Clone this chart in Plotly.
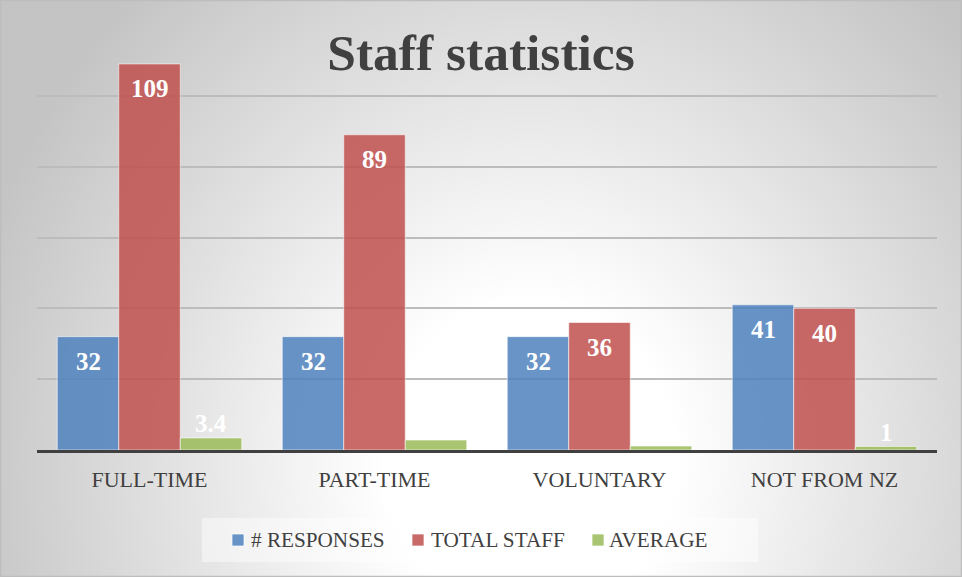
import base64
import plotly.graph_objects as go

categories = ["FULL-TIME", "PART-TIME", "VOLUNTARY", "NOT FROM NZ"]
series_names = ["# RESPONSES", "TOTAL STAFF", "AVERAGE"]
responses = [32, 32, 32, 41]
total_staff = [109, 89, 36, 40]
average = [3.4, 2.8, 1.1, 1.0]
y_ticks = [0, 20, 40, 60, 80, 100, 120]

series_values = [responses, total_staff, average]
colors = ["rgba(79,129,189,0.85)", "rgba(192,80,77,0.85)", "rgba(155,187,89,0.85)"]

W, H = 962, 577
ML, MR, MT, MB = 37, 25, 25, 127
PW, PH = W - ML - MR, H - MT - MB
BARGAP = 0.18

FONT = "Liberation Serif"
TXT = "#404040"


def px_x(x):
    return (x - ML) / PW


def px_y(y):
    return (H - MB - y) / PH


fig = go.Figure()
for name, vals, col in zip(series_names, series_values, colors):
    fig.add_trace(go.Bar(
        x=categories, y=vals, name=name, showlegend=False,
        marker=dict(color=col, line=dict(color="rgba(255,255,255,0.55)", width=1)),
        hoverinfo="x+y+name",
    ))

# data labels
cat_px = PW / len(categories)
bar_px = cat_px * (1 - BARGAP) / len(series_names)
annotations = []
for i, vals in enumerate(series_values):
    for c, v in zip(categories, vals):
        inside = i < 2
        annotations.append(dict(
            x=c, y=v, xref="x", yref="y",
            xshift=(i - 1) * bar_px,
            yshift=-25 if inside else 14,
            text=f"<b>{v:g}</b>", showarrow=False,
            font=dict(family=FONT, size=25, color="white"),
        ))

# legend (drawn as shapes + text)
shapes = [dict(type="rect", xref="paper", yref="paper",
               x0=px_x(202), x1=px_x(758), y0=px_y(562), y1=px_y(518),
               fillcolor="rgba(255,255,255,0.45)", line=dict(width=0), layer="below")]
leg_sq_x = [232, 412, 592]
leg_tx_x = [249, 429, 607]
leg_cy = 540
for name, col, sx, tx in zip(series_names, colors, leg_sq_x, leg_tx_x):
    shapes.append(dict(type="rect", xref="paper", yref="paper",
                       x0=px_x(sx), x1=px_x(sx + 12), y0=px_y(leg_cy + 6), y1=px_y(leg_cy - 6),
                       fillcolor=col, line=dict(color="rgba(255,255,255,0.7)", width=1)))
    annotations.append(dict(x=px_x(tx), y=px_y(leg_cy), xref="paper", yref="paper",
                            xanchor="left", yanchor="middle", showarrow=False, text=name,
                            font=dict(family=FONT, size=21.2, color=TXT)))

svg = f'''<svg xmlns="http://www.w3.org/2000/svg" width="{W}" height="{H}" viewBox="0 0 {W} {H}" preserveAspectRatio="none">
<defs><radialGradient id="g" gradientUnits="userSpaceOnUse" cx="530" cy="460" r="580"
 gradientTransform="translate(530 460) scale(1 1.1) translate(-530 -460)">
<stop offset="0" stop-color="#ffffff"/><stop offset="0.25" stop-color="#ffffff"/>
<stop offset="1" stop-color="#c4c4c4"/></radialGradient></defs>
<rect x="0" y="0" width="{W}" height="{H}" fill="url(#g)"/>
<rect x="0.5" y="0.5" width="{W-1}" height="{H-1}" fill="none" stroke="#bdbdbd" stroke-width="1.5"/>
</svg>'''
src = "data:image/svg+xml;base64," + base64.b64encode(svg.encode()).decode()

fig.update_layout(
    width=W, height=H, autosize=False,
    margin=dict(l=ML, r=MR, t=MT, b=MB, pad=0),
    paper_bgcolor="rgba(0,0,0,0)", plot_bgcolor="rgba(0,0,0,0)",
    barmode="group", bargap=BARGAP, bargroupgap=0,
    title=dict(text="<b>Staff statistics</b>", x=0.5, xanchor="center", xref="container",
               y=1 - 52 / H, yanchor="middle", yref="container",
               font=dict(family=FONT, size=51.5, color=TXT)),
    font=dict(family=FONT, color=TXT),
    showlegend=False,
    xaxis=dict(showline=True, linecolor=TXT, linewidth=3, ticks="outside", ticklen=8,
               tickcolor="rgba(0,0,0,0)", tickfont=dict(family=FONT, size=22, color=TXT),
               showgrid=False, fixedrange=True),
    yaxis=dict(range=[0, 120], tickvals=y_ticks, showticklabels=False, showgrid=True,
               gridcolor="#bcbcbc", gridwidth=1.5, zeroline=False, fixedrange=True),
    annotations=annotations,
    shapes=shapes,
    images=[dict(source=src, xref="paper", yref="paper", x=-ML / PW, y=1 + MT / PH,
                 sizex=W / PW, sizey=H / PH, xanchor="left", yanchor="top",
                 sizing="stretch", layer="below")],
)

fig.write_html("out.html", config={"displayModeBar": False},
               post_script="document.body.style.margin='0';document.body.style.overflow='hidden';")
